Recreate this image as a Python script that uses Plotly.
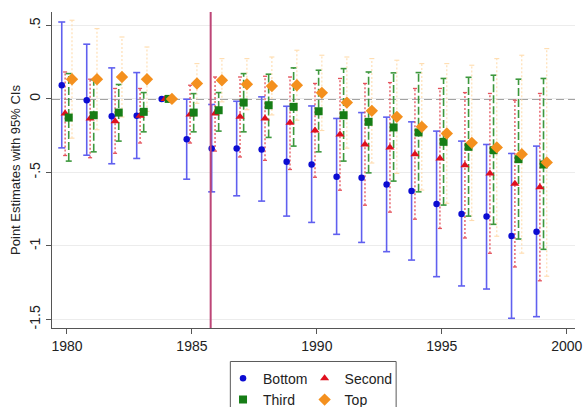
import plotly.graph_objects as go

years = list(range(1980, 2000))

bottom_est = [0.093, -0.009, -0.118, -0.115, 0.0, -0.274, -0.337, -0.337, -0.344, -0.428,
              -0.446, -0.530, -0.537, -0.582, -0.627, -0.715, -0.783, -0.800, -0.933, -0.903]
bottom_lo = [-0.333, -0.383, -0.441, -0.405, None, -0.546, -0.632, -0.659, -0.695, -0.797,
             -0.840, -0.921, -0.976, -1.039, -1.096, -1.209, -1.272, -1.293, -1.492, -1.481]
bottom_hi = [0.523, 0.372, 0.211, 0.179, None, -0.002, -0.038, -0.016, 0.014, -0.050,
             -0.048, -0.133, -0.093, -0.124, -0.156, -0.219, -0.287, -0.310, -0.371, -0.321]

second_est = [-0.099, -0.133, -0.152, -0.115, 0.0, -0.106, -0.099, -0.122, -0.133, -0.163,
              -0.215, -0.242, -0.310, -0.330, -0.376, -0.405, -0.452, -0.507, -0.577, -0.600]
second_lo = [-0.385, -0.400, -0.370, -0.300, None, -0.300, -0.355, -0.395, -0.418, -0.480,
             -0.533, -0.621, -0.723, -0.770, -0.818, -0.881, -0.946, -1.050, -1.143, -1.237]
second_hi = [0.183, 0.134, 0.071, 0.071, None, 0.093, 0.149, 0.149, 0.154, 0.149,
             0.105, 0.139, 0.105, 0.111, 0.071, 0.071, 0.043, 0.037, -0.009, 0.037]

third_est = [-0.127, -0.111, -0.093, -0.088, 0.0, -0.093, -0.077, -0.025, -0.043, -0.054,
             -0.084, -0.111, -0.156, -0.194, -0.228, -0.292, -0.326, -0.349, -0.410, -0.446]
third_lo = [-0.423, -0.360, -0.287, -0.224, None, -0.224, -0.219, -0.224, -0.262, -0.321,
            -0.360, -0.423, -0.503, -0.559, -0.632, -0.722, -0.797, -0.853, -0.953, -1.023]
third_hi = [0.172, 0.130, 0.098, 0.043, None, 0.036, 0.043, 0.172, 0.168, 0.211,
            0.195, 0.206, 0.183, 0.177, 0.179, 0.139, 0.147, 0.161, 0.134, 0.139]

top_est = [0.134, 0.134, 0.149, 0.134, 0.0, 0.105, 0.127, 0.100, 0.088, 0.093,
           0.041, -0.025, -0.081, -0.122, -0.190, -0.235, -0.299, -0.330, -0.376, -0.432]
top_lo = [-0.267, -0.210, -0.123, -0.085, None, -0.030, -0.020, -0.074, -0.109, -0.145,
          -0.215, -0.335, -0.436, -0.507, -0.620, -0.710, -0.827, -0.934, -1.049, -1.206]
top_hi = [0.535, 0.478, 0.421, 0.353, None, 0.240, 0.274, 0.274, 0.285, 0.331,
          0.297, 0.285, 0.274, 0.263, 0.240, 0.240, 0.229, 0.274, 0.297, 0.342]

y_ticks = [0.5, 0.0, -0.5, -1.0, -1.5]
y_tick_labels = [".5", "0", "-.5", "-1", "-1.5"]
x_ticks = [1980, 1985, 1990, 1995, 2000]
policy_year = 1985.75

series = [
    dict(name="Bottom", est=bottom_est, lo=bottom_lo, hi=bottom_hi, off=-0.21, sym="circle",
         mcol="#0c0cd2", msize=6.5, ccol="#6060ef", dash="solid", lw=1.6, cap=0.14, legend="legend"),
    dict(name="Second", est=second_est, lo=second_lo, hi=second_hi, off=-0.075, sym="triangle-up",
         mcol="#e0101e", msize=8, ccol="#e4525c", dash="2px,2px", lw=1.3, cap=0.08, legend="legend2"),
    dict(name="Third", est=third_est, lo=third_lo, hi=third_hi, off=0.07, sym="square",
         mcol="#167d16", msize=8, ccol="#3d983d", dash="8px,3px", lw=1.6, cap=0.12, legend="legend"),
    dict(name="Top", est=top_est, lo=top_lo, hi=top_hi, off=0.2, sym="diamond",
         mcol="#f4901e", msize=9.5, ccol="#ffdcae", dash="2px,2px", lw=1.1, cap=0.1, legend="legend2"),
]

fig = go.Figure()

# confidence intervals
for s in series:
    vx, vy, cx, cy = [], [], [], []
    for yr, lo, hi in zip(years, s["lo"], s["hi"]):
        if lo is None or hi is None:
            continue
        xp = yr + s["off"]
        vx += [xp, xp, None]
        vy += [lo, hi, None]
        for v in (lo, hi):
            cx += [xp - s["cap"], xp + s["cap"], None]
            cy += [v, v, None]
    fig.add_trace(go.Scatter(x=vx, y=vy, mode="lines", showlegend=False, hoverinfo="skip",
                             line=dict(color=s["ccol"], width=s["lw"], dash=s["dash"])))
    fig.add_trace(go.Scatter(x=cx, y=cy, mode="lines", showlegend=False, hoverinfo="skip",
                             line=dict(color=s["ccol"], width=s["lw"])))

# point estimates
for s in series:
    fig.add_trace(go.Scatter(
        x=[yr + s["off"] for yr in years], y=s["est"], mode="markers", name=s["name"],
        legend=s["legend"],
        marker=dict(symbol=s["sym"], color=s["mcol"], size=s["msize"], line=dict(width=0)),
    ))

fig.add_hline(y=0, line=dict(color="#858585", width=1.5, dash="8px,4px"), layer="below")
fig.add_vline(x=policy_year, line=dict(color="#bd4677", width=2))

# legend frame
fig.add_shape(type="rect", xref="paper", yref="paper", x0=0.341, x1=0.658, y0=-0.35, y1=-0.106,
              line=dict(color="#5a5a5a", width=1), fillcolor="rgba(0,0,0,0)")

font_family = "Liberation Sans, Arial, Helvetica, sans-serif"
legend_common = dict(orientation="v", yanchor="top", xanchor="left", y=-0.11,
                     bgcolor="rgba(0,0,0,0)", borderwidth=0, tracegroupgap=3,
                     font=dict(family=font_family, size=14, color="#222"),
                     itemwidth=30)

fig.update_layout(
    width=583, height=407,
    margin=dict(l=52, r=8, t=12, b=79, autoexpand=False),
    plot_bgcolor="white", paper_bgcolor="white",
    font=dict(family=font_family, size=13, color="#222"),
    legend=dict(x=0.327, **legend_common),
    legend2=dict(x=0.483, **legend_common),
    xaxis=dict(range=[1979.4, 2000.33], tickvals=x_ticks, ticks="outside", ticklen=5,
               tickcolor="#555", showline=True, linecolor="#555", linewidth=1,
               showgrid=False, zeroline=False, tickfont=dict(size=14)),
    yaxis=dict(range=[-1.558, 0.591], tickvals=y_ticks, ticktext=y_tick_labels,
               tickangle=-90, ticks="outside", ticklen=5, tickcolor="#555",
               showline=True, linecolor="#555", linewidth=1,
               showgrid=True, gridcolor="#ececec", gridwidth=1, zeroline=False,
               tickfont=dict(size=14),
               title=dict(text="Point Estimates with 95% CIs", font=dict(size=13), standoff=3)),
)

fig.write_html("out.html")
